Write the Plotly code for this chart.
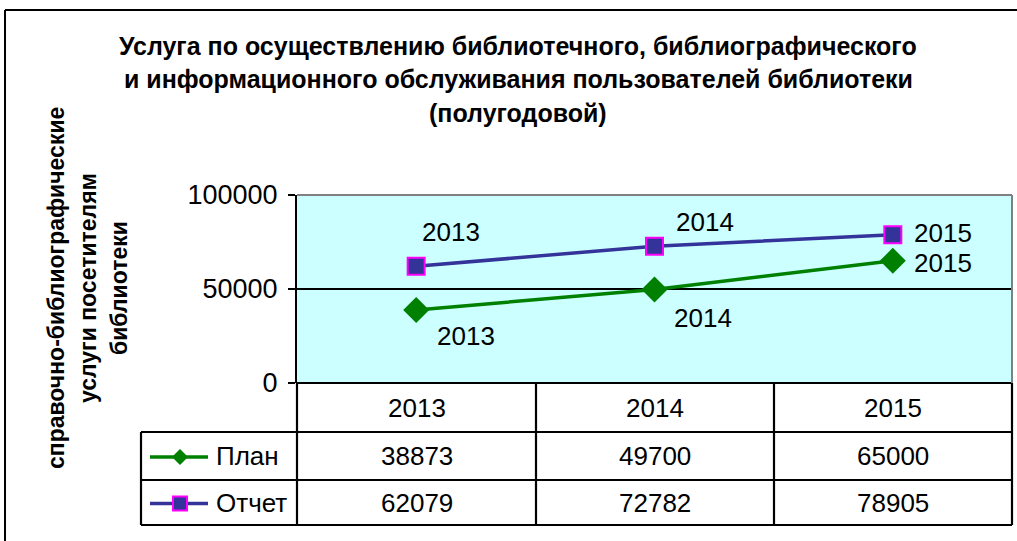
import plotly.graph_objects as go

categories = ["2013", "2014", "2015"]
plan = [38873, 49700, 65000]
otchet = [62079, 72782, 78905]
series_names = ["План", "Отчет"]
y_ticks = [0, 50000, 100000]
title_lines = ["Услуга по осуществлению библиотечного, библиографического",
               "и информационного обслуживания пользователей библиотеки",
               "(полугодовой)"]
ytitle_lines = ["справочно-библиографические", "услуги посетителям", "библиотеки"]

# label pixel offsets (styling)
plan_off = [(50, 26), (48, 28), (50, 2)]
otchet_off = [(35, -34), (50, -24), (50, -2)]

W, H = 1017, 541
L, R, T, B = 297, 1012, 195, 383
FONT = "Liberation Sans, Arial, sans-serif"
GREEN = "#008000"
NAVY = "#333399"
MAG = "#FF00FF"


def px(x):
    return (x - L) / (R - L)


def py(y):
    return (B - y) / (B - T)


fig = go.Figure()
fig.add_trace(go.Scatter(x=categories, y=plan, mode="lines+markers", name=series_names[0],
                         line=dict(color=GREEN, width=3.5),
                         marker=dict(symbol="diamond", size=20, color=GREEN,
                                     line=dict(color=GREEN, width=0))))
fig.add_trace(go.Scatter(x=categories, y=otchet, mode="lines+markers", name=series_names[1],
                         line=dict(color=NAVY, width=3.5),
                         marker=dict(symbol="square", size=17, color=NAVY,
                                     line=dict(color=MAG, width=2))))

ann = []
for vals, offs in ((plan, plan_off), (otchet, otchet_off)):
    for i, (c, v, (dx, dy)) in enumerate(zip(categories, vals, offs)):
        ann.append(dict(x=i, y=v, xref="x", yref="y", text=c, showarrow=False,
                        xanchor="center", yanchor="middle",
                        xshift=dx, yshift=-dy, font=dict(size=26, color="black", family=FONT)))

# title
for i, (t, yy) in enumerate(zip(title_lines, [46, 79, 113])):
    ann.append(dict(x=px(518), y=py(yy), xref="paper", yref="paper", text="<b>" + t + "</b>",
                    showarrow=False, xanchor="center", yanchor="middle",
                    font=dict(size=25, color="black", family=FONT)))
# y title
for t, xx in zip(ytitle_lines, [56, 88, 119]):
    ann.append(dict(x=px(xx), y=py(288), xref="paper", yref="paper", text="<b>" + t + "</b>",
                    showarrow=False, xanchor="center", yanchor="middle", textangle=-90,
                    font=dict(size=23, color="black", family=FONT)))

# data table
col_x = [L, 536, 774, R]
row_y = [B, 432, 480, 525]
leg_x = 141
for c, x0, x1 in zip(categories, col_x[:-1], col_x[1:]):
    ann.append(dict(x=px((x0 + x1) / 2), y=py((row_y[0] + row_y[1]) / 2), xref="paper", yref="paper",
                    text=c, showarrow=False, xanchor="center", yanchor="middle",
                    font=dict(size=26, color="black", family=FONT)))
for r, vals in enumerate((plan, otchet)):
    yc = (row_y[r + 1] + row_y[r + 2]) / 2
    for v, x0, x1 in zip(vals, col_x[:-1], col_x[1:]):
        ann.append(dict(x=px((x0 + x1) / 2), y=py(yc), xref="paper", yref="paper",
                        text=str(v), showarrow=False, xanchor="center", yanchor="middle",
                        font=dict(size=26, color="black", family=FONT)))
    ann.append(dict(x=px(214), y=py(yc), xref="paper", yref="paper", text=series_names[r],
                    showarrow=False, xanchor="left", yanchor="middle",
                    font=dict(size=26, color="black", family=FONT)))

shapes = []
lw = 2.2


def seg(x0, y0, x1, y1, color="black", width=lw):
    shapes.append(dict(type="line", xref="paper", yref="paper", x0=px(x0), y0=py(y0),
                       x1=px(x1), y1=py(y1), line=dict(color=color, width=width), layer="above"))


seg(L, B, R, B)
for yy in row_y[1:]:
    seg(leg_x, yy, R, yy)
for xx in col_x:
    seg(xx, B, xx, row_y[-1])
seg(leg_x, row_y[1], leg_x, row_y[-1])
# plot area top/right border (gray)
seg(L, T, R, T, color="#808080", width=2)
seg(R, T, R, B, color="#808080", width=2)
# outer chart border
seg(5, 10, 1030, 10, width=2)
seg(5, 10, 5, 560, width=2)

# legend keys
for r, (col) in enumerate((GREEN, NAVY)):
    yc = (row_y[r + 1] + row_y[r + 2]) / 2 + 1
    seg(150, yc, 208, yc, color=col, width=3.5)
# diamond
yc = (row_y[1] + row_y[2]) / 2 + 1
d = 8
shapes.append(dict(type="path", xref="paper", yref="paper",
                   path=f"M {px(180-d)},{py(yc)} L {px(180)},{py(yc-d)} L {px(180+d)},{py(yc)} L {px(180)},{py(yc+d)} Z",
                   fillcolor=GREEN, line=dict(color=GREEN, width=0), layer="above"))
yc = (row_y[2] + row_y[3]) / 2 + 1
s = 7
shapes.append(dict(type="rect", xref="paper", yref="paper", x0=px(180 - s), x1=px(180 + s),
                   y0=py(yc + s), y1=py(yc - s), fillcolor=NAVY, line=dict(color=MAG, width=2),
                   layer="above"))

fig.update_layout(
    width=W, height=H,
    margin=dict(l=L, r=W - R, t=T, b=H - B, pad=0),
    paper_bgcolor="white", plot_bgcolor="#CCFFFF",
    showlegend=False,
    annotations=ann, shapes=shapes,
    font=dict(family=FONT, color="black"),
)
fig.update_xaxes(type="category", range=[-0.5, 2.5], showticklabels=False, showgrid=False,
                 zeroline=False, showline=False, ticks="")
fig.update_yaxes(range=[0, 100000], tickvals=y_ticks, ticktext=[str(v) for v in y_ticks],
                 showgrid=True, gridcolor="black", gridwidth=1.5, zeroline=False,
                 showline=True, linecolor="black", linewidth=2.2, ticks="outside", ticklen=7,
                 tickcolor="black", tickwidth=2, tickfont=dict(size=27, family=FONT),
                 ticklabelstandoff=5)

fig.write_html("out.html", config={"displayModeBar": False},
               post_script="document.body.style.margin='0';")
